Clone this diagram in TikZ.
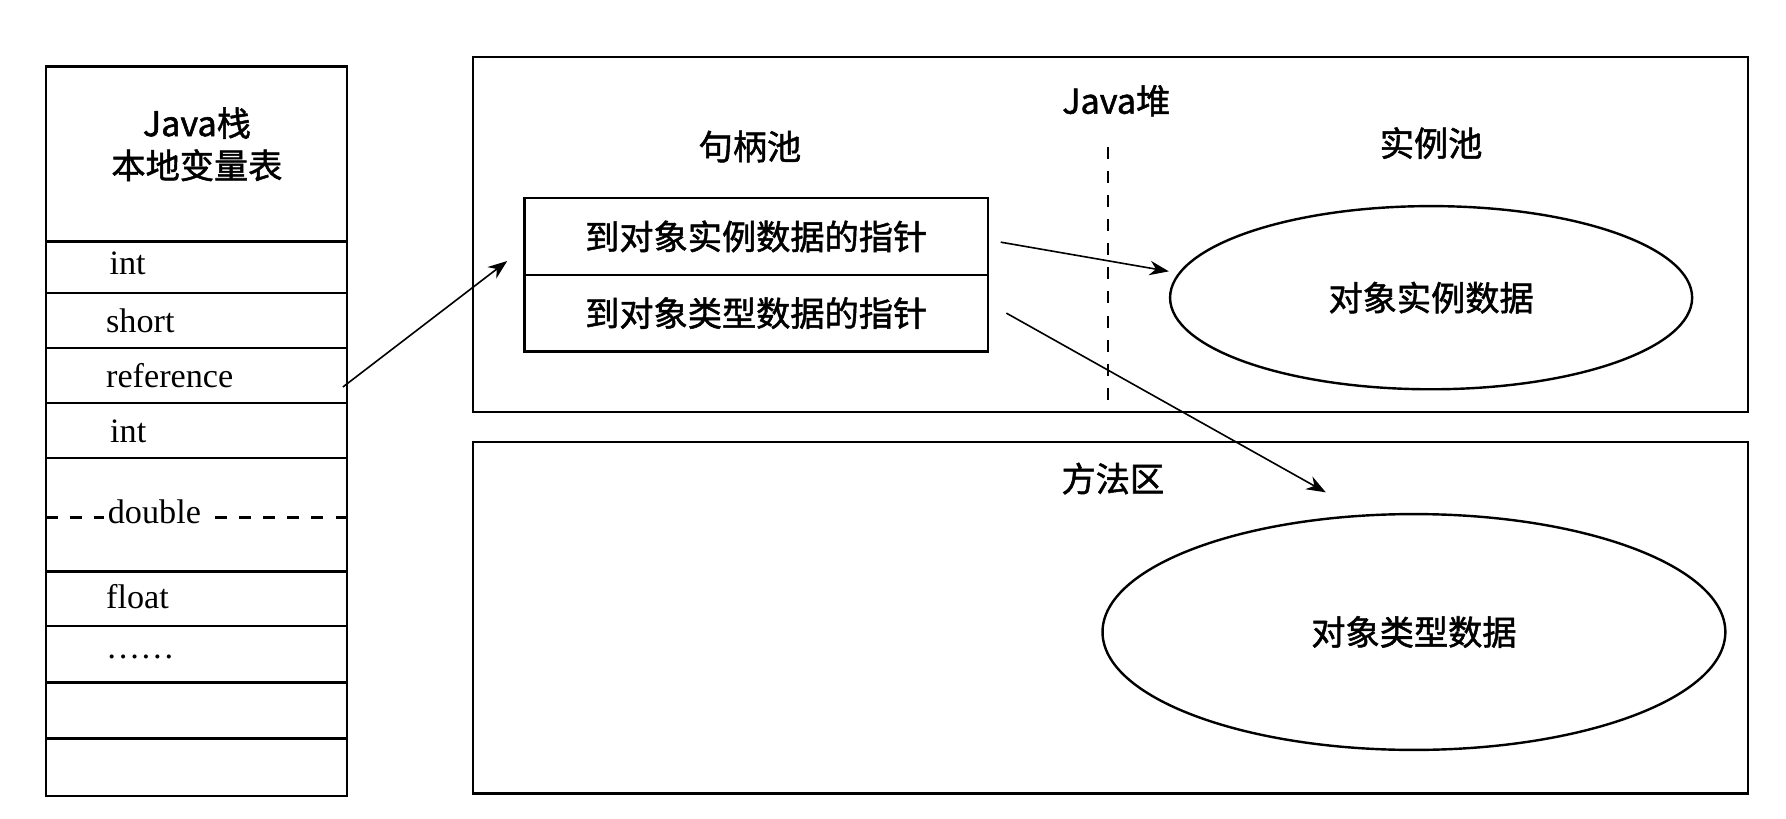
\documentclass[tikz,border=0pt]{standalone}
\usepackage{fontspec}
\setmainfont{Liberation Serif}
\newfontfamily\cjk{Noto Sans CJK SC}[FakeBold=1.5]
\usetikzlibrary{arrows.meta,shapes.geometric}
\begin{document}
\begin{tikzpicture}
    [   x=1cm, y=-1cm
    ,   box/.style=
        {   draw
        ,   line width=0.6pt
        }
    ,   slot/.style=
        {   anchor=west
        ,   inner sep=0pt
        ,   node font=\fontsize{8.5}{10}\selectfont
        }
    ,   zh/.style=
        {   inner sep=0pt
        ,   node font=\fontsize{8.5}{10.5}\selectfont\cjk
        ,   align=center
        }
    ,   >={Stealth[scale=1.0]}
    ]
    \useasboundingbox (0,0) rectangle (15.6,7.145);
    % Java stack
    \draw[box] (0.40,0.58) rectangle (3.03,6.95);
    \foreach \y in {2.11,2.56,3.04,3.52,4.00,4.99,5.47,5.96,6.45}
        \draw[box] (0.40,\y) -- (3.03,\y);
    \node[zh] (stack) at (1.72,1.26) {Java栈\\本地变量表};
    \node[slot] (s1) at (0.95,2.30) {int};
    \node[slot] (s2) at (0.92,2.80) {short};
    \node[slot] (ref) at (0.92,3.28) {reference};
    \node[slot,fill=white,inner xsep=1pt] (s4) at (0.92,3.77) {int};
    \draw[box,dashed] (0.40,4.52) -- (3.03,4.52);
    \node[slot,fill=white,inner xsep=1pt] (s5) at (0.90,4.47) {double};
    \node[slot] (s6) at (0.92,5.21) {float};
    \node[slot] (s7) at (0.92,5.74) {……};
    % Java heap
    \draw[box] (4.13,0.50) rectangle (15.27,3.60);
    \draw[box,dashed] (9.68,1.28) -- (9.68,3.55);
    \node[zh] (heap) at (9.75,0.88) {Java堆};
    \node[zh] (hpool) at (6.55,1.28) {句柄池};
    \node[zh] (ipool) at (12.50,1.25) {实例池};
    \node[box,zh,minimum width=4.05cm,minimum height=0.67cm] (ptrA) at (6.605,2.065) {到对象实例数据的指针};
    \node[box,zh,minimum width=4.05cm,minimum height=0.67cm] (ptrB) at (6.605,2.735) {到对象类型数据的指针};
    \node[box,zh,ellipse,minimum width=4.56cm,minimum height=1.60cm] (inst) at (12.50,2.60) {对象实例数据};
    % method area
    \draw[box] (4.13,3.86) rectangle (15.27,6.93);
    \node[zh] (marea) at (9.72,4.18) {方法区};
    \node[box,zh,ellipse,minimum width=5.44cm,minimum height=2.06cm] (type) at (12.35,5.52) {对象类型数据};
    \coordinate (typeIn) at (11.58,4.30);
    % connectors
    \draw[->] (ref.east) ++(0.95,0.10) coordinate (refOut) -- (4.43,2.28);
    \draw[->] ([xshift=0.10cm,yshift=-0.05cm]ptrA.east) -- (inst.west |- 0,2.37) coordinate (instIn);
    \draw[->] ([xshift=0.15cm]ptrB.east) -- (typeIn);
\end{tikzpicture}
\end{document}
